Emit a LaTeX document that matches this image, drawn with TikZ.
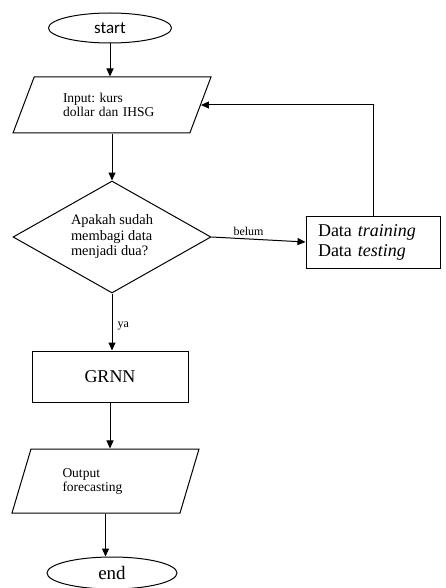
\documentclass[tikz,border=0pt]{standalone}
\usepackage{fontspec}
\setmainfont{Liberation Serif}
\newfontfamily\startfont{Carlito}
\usetikzlibrary{shapes.geometric,arrows.meta}
\begin{document}
\begin{tikzpicture}[x=1pt,y=-1pt,
  line width=1pt,
  arr/.style={-{Triangle[length=8pt,width=7pt]}},
  term/.style={draw,ellipse,inner sep=0pt},
  io/.style={draw,trapezium,trapezium stretches body,inner sep=0pt,align=left},
  proc/.style={draw,rectangle,inner sep=0pt},
  dec/.style={draw,diamond,inner sep=0pt,align=left},
  lab/.style={font=\fontsize{12}{13}\selectfont,inner sep=1pt}]
\useasboundingbox (0,0) rectangle (445,588);
\node[term,minimum width=123pt,minimum height=30pt,font=\startfont\fontsize{17}{18}\selectfont] (start) at (110,28) {start};
\node[io,trapezium left angle=48,trapezium right angle=132,minimum width=198pt,minimum height=56pt,text width=98pt,font=\fontsize{13.5}{14}\selectfont] (in) at (112,105) {Input:\ kurs\\dollar dan IHSG};
\node[dec,aspect=1.77,minimum width=198pt,minimum height=112pt,font=\fontsize{14.4}{15.5}\selectfont] (q) at (112,237) {Apakah sudah\\membagi data\\menjadi dua?};
\node[proc,minimum width=134pt,minimum height=52pt,text width=110pt,inner xsep=12pt,align=left,font=\fontsize{18}{20}\selectfont] (data) at (373,242) {Data \textit{training}\\Data \textit{testing}};
\node[proc,minimum width=156pt,minimum height=51pt,font=\fontsize{18}{20}\selectfont] (grnn) at (110,376.5) {GRNN};
\node[io,trapezium left angle=53.7,trapezium right angle=126.3,minimum width=187pt,minimum height=64pt,text width=86pt,font=\fontsize{13.5}{14}\selectfont] (out) at (105.5,481) {Output\\forecasting};
\node[term,minimum width=130pt,minimum height=32pt,font=\fontsize{19}{20}\selectfont] (end) at (112,573) {end};
\draw[arr] (start.south) -- (start.south |- in.north);
\draw[arr] (in.center |- in.south) -- (q.north);
\draw[arr] (q.east) -- node[lab,above,yshift=2pt,xshift=-10pt] {belum} (data.west);
\draw[arr] (data.north) |- (in.east);
\draw[arr] (q.south) -- node[lab,right,xshift=4pt,yshift=-4pt] {ya} (q.south |- grnn.north);
\draw[arr] (grnn.south) -- (grnn.south |- out.north);
\draw[arr] (out.center |- out.south) -- (out.center |- end.north);
\end{tikzpicture}
\end{document}
